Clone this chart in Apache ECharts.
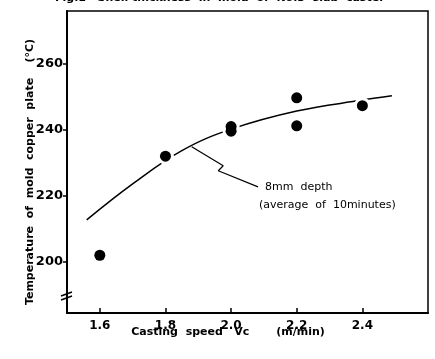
<!DOCTYPE html>
<html><head><meta charset="utf-8">
<script src="https://cdn.jsdelivr.net/npm/echarts@6/dist/echarts.min.js"></script>
<style>html,body{margin:0;padding:0;background:#fff}#c{width:435px;height:359px}</style>
</head><body><div id="c"></div>
<script>
const speeds = [1.6, 1.8, 2.0, 2.0, 2.2, 2.2, 2.4];
const temps = [202, 232, 241, 239.6, 249.7, 241.2, 247.3];
const curveX = [1.56, 1.7, 1.85, 2.0, 2.2, 2.4, 2.49];
const curveY = [212.7, 223.6, 233.7, 240.2, 245.7, 249.0, 250.3];
const leaderX = [1.88, 1.976, 1.961, 2.082];
const leaderY = [234.9, 229.1, 227.6, 222.7];
const yTicks = [200, 220, 240, 260];
const xTicks = [1.6, 1.8, 2.0, 2.2, 2.4];
const xTickLabels = ['1.6', '1.8', '2.0', '2.2', '2.4'];

const chart = echarts.init(document.getElementById('c'));
const font = 'DejaVu Sans';
const pts = speeds.map((x, i) => [x, temps[i]]);
chart.setOption({
  animation: false,
  backgroundColor: '#fff',
  grid: {left: 67, right: 7, top: 11, bottom: 46, show: true, borderColor: '#000', borderWidth: 1.5},
  xAxis: {
    type: 'value', min: 1.5, max: 2.6,
    axisLine: {show: true, onZero: false, lineStyle: {color: '#000', width: 2}},
    axisTick: {show: true, inside: true, length: 5, customValues: xTicks, lineStyle: {color: '#000', width: 1.5}},
    axisLabel: {customValues: xTicks, formatter: v => xTickLabels[xTicks.indexOf(Math.round(v*10)/10)] || '', color: '#000', fontFamily: font, fontWeight: 'bold', fontSize: 12, margin: 7},
    splitLine: {show: false}
  },
  yAxis: {
    type: 'value', min: 184.5, max: 276,
    axisLine: {show: true, onZero: false, lineStyle: {color: '#000', width: 2}},
    axisTick: {show: true, inside: false, length: 4, customValues: yTicks, lineStyle: {color: '#000', width: 1.5}},
    axisLabel: {customValues: yTicks, color: '#000', fontFamily: font, fontWeight: 'bold', fontSize: 13, margin: 4},
    splitLine: {show: false}
  },
  graphic: [
    {type: 'text', left: 55, top: -7, style: {text: 'Fig.1   Shell thickness  in  mold  of  No.3  slab  caster', font: 'bold 11px "DejaVu Sans"', fill: '#000'}},
    {type: 'text', x: 30, y: 172, rotation: Math.PI/2, style: {text: 'Temperature  of  mold  copper  plate    (°C)', font: 'bold 11px "DejaVu Sans"', fill: '#000', align: 'center', verticalAlign: 'middle'}},
    {type: 'text', x: 228, y: 332, style: {text: 'Casting  speed   Vc       (m/min)', font: 'bold 11px "DejaVu Sans"', fill: '#000', align: 'center', verticalAlign: 'middle'}},
    {type: 'text', x: 265, y: 187, style: {text: '8mm  depth', font: '11px "DejaVu Sans"', fill: '#000', verticalAlign: 'middle'}},
    {type: 'text', x: 259, y: 205, style: {text: '(average  of  10minutes)', font: '11px "DejaVu Sans"', fill: '#000', verticalAlign: 'middle'}},
    {type: 'line', shape: {x1: 61, y1: 296, x2: 72, y2: 292}, style: {stroke: '#000', lineWidth: 1.5}},
    {type: 'line', shape: {x1: 61, y1: 300, x2: 72, y2: 296}, style: {stroke: '#000', lineWidth: 1.5}}
  ],
  series: [
    {type: 'line', data: curveX.map((x, i) => [x, curveY[i]]), smooth: 0.4, showSymbol: false, lineStyle: {color: '#000', width: 1.5}, z: 2},
    {type: 'line', data: leaderX.map((x, i) => [x, leaderY[i]]), showSymbol: false, lineStyle: {color: '#000', width: 1.2}, z: 2},
    {type: 'scatter', data: pts, symbolSize: 17, itemStyle: {color: '#fff', opacity: 1}, z: 3, silent: true},
    {type: 'scatter', data: pts, symbolSize: 11, itemStyle: {color: '#000', opacity: 1}, z: 4}
  ]
});
</script></body></html>
